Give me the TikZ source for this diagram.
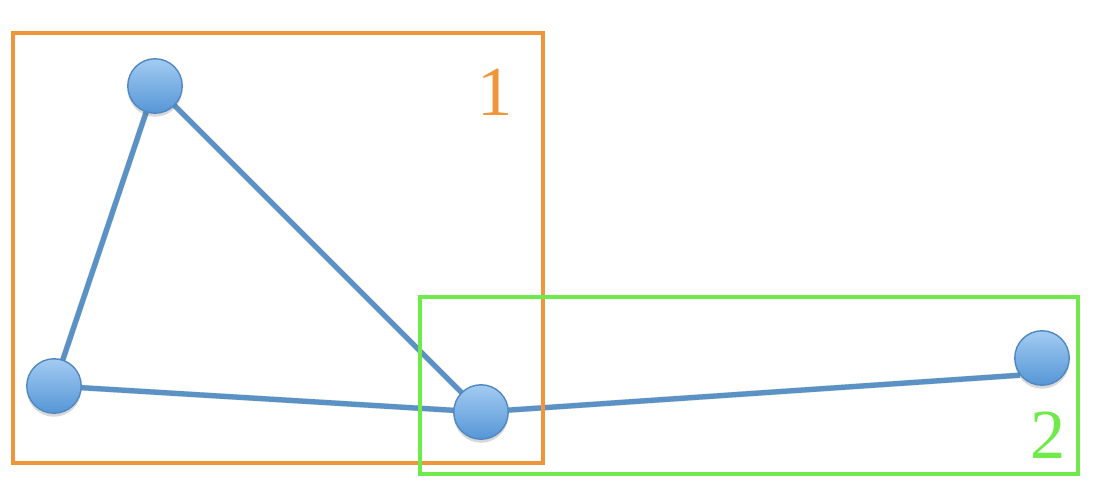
\documentclass[tikz,border=0pt]{standalone}
\usepackage{fontspec}
\setmainfont{Liberation Serif}
\usetikzlibrary{shadows,backgrounds}
\definecolor{boxorange}{HTML}{F0963A}
\definecolor{boxgreen}{HTML}{6EEB4A}
\definecolor{edgeblue}{HTML}{5A92C6}
\definecolor{nodetop}{HTML}{A3CBF2}
\definecolor{nodebot}{HTML}{5596D6}
\definecolor{nodeline}{HTML}{5089C2}
\tikzset{
  vertex/.style={circle, minimum size=31pt, inner sep=0pt, draw=nodeline, line width=0.8pt,
    top color=nodetop, bottom color=nodebot,
    drop shadow={shadow xshift=0pt, shadow yshift=-2pt, opacity=0.25, fill=black!60}},
  edge/.style={draw=edgeblue, line width=3pt},
  edgeshadow/.style={draw=black!30, line width=3.4pt, opacity=0.35},
  region/.style={line width=2.3pt},
  lbl/.style={font=\fontsize{40}{48}\selectfont, inner sep=0pt}
}
\begin{document}
\begin{tikzpicture}[x=0.02cm, y=-0.02cm]
\useasboundingbox (0,0) rectangle (1102,490);
\node[vertex] (n1) at (155,86) {};
\node[vertex] (n2) at (54,386) {};
\node[vertex] (n3) at (481,412) {};
\node[vertex] (n4) at (1042,358) {};
\begin{scope}[on background layer]
\fill[white] (0,0) rectangle (1102,490);
\begin{scope}[yshift=-2.5pt]
\draw[edgeshadow] (n1.center) -- (n2.center);
\draw[edgeshadow] (n1.center) -- (n3.center);
\draw[edgeshadow] (n2.center) -- (n3.center);
\draw[edgeshadow] (n3.center) -- (n4.218);
\end{scope}
\draw[edge] (n1.center) -- (n2.center);
\draw[edge] (n1.center) -- (n3.center);
\draw[edge] (n2.center) -- (n3.center);
\draw[edge] (n3.center) -- (n4.218);
\end{scope}
\draw[region, draw=boxorange] (13,33) rectangle (543,463);
\draw[region, draw=boxgreen] (420,297) rectangle (1078,474);
\node[lbl, text=boxorange, anchor=base] (l1) at (495,115) {1};
\node[lbl, text=boxgreen, anchor=base] (l2) at (1048,458) {2};
\end{tikzpicture}
\end{document}
